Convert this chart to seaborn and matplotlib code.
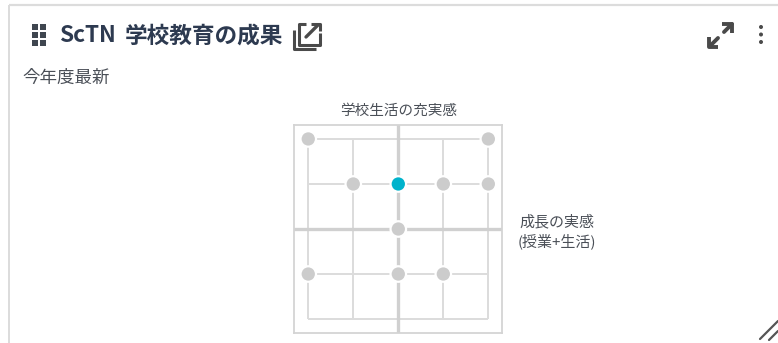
import pandas as pd
import numpy as np
import matplotlib
matplotlib.use("Agg")
import matplotlib.pyplot as plt
from matplotlib.patches import Rectangle, Circle
import seaborn as sns

# values
school_life = [-2, 2, -1, 0, 1, 2, 0, -2, 0, 1]
growth = [2, 2, 1, 1, 1, 1, 0, -1, -1, -1]
latest = [False, False, False, True, False, False, False, False, False, False]
grid_levels = [-2, -1, 1, 2]

title_latin = "ScTN"
title_jp = "学校教育の成果"
subtitle = "今年度最新"
x_label = "学校生活の充実感"
y_label = "成長の実感\n(授業+生活)"

sns.set_theme(style="white")
plt.rcParams["font.family"] = ["Noto Sans CJK JP", "DejaVu Sans"]

data = pd.DataFrame({"school_life": school_life, "growth": growth, "latest": latest})

W, H = 778, 343
fig = plt.figure(figsize=(W / 100, H / 100), dpi=100)

# page layer in pixels: card border, header, icons
bg = fig.add_axes([0, 0, 1, 1])
bg.set_xlim(0, W)
bg.set_ylim(H, 0)
bg.axis("off")

border = "#dcdcdc"
bg.plot([9.5, 778], [5, 5], color=border, lw=1.6, solid_capstyle="butt")
bg.plot([9.5, 9.5], [5, 343], color=border, lw=1.4, solid_capstyle="butt")

# drag handle
for dx in (32, 40):
    for dy in (24, 32, 40):
        bg.add_patch(Rectangle((dx, dy), 5.6, 5.6, color="#3f4650", lw=0))

bg.text(59, 36, title_latin, fontsize=16.3, fontweight="bold", color="#2d3a50", va="center", ha="left")
bg.text(125, 36, title_jp, fontsize=16.3, fontweight="bold", color="#2d3a50", va="center", ha="left")
bg.text(22, 78, subtitle, fontsize=12.6, color="#4a4f57", va="center", ha="left")

# open in new window icon
icon = "#4a4a4a"
bg.plot([294.5, 294.5, 316], [30, 48.5, 48.5], color=icon, lw=2.2, solid_capstyle="butt")
bg.plot([306, 299, 299, 320, 320], [24, 24, 44.5, 44.5, 33], color=icon, lw=2.2, solid_capstyle="butt")
bg.plot([306, 318], [37, 25], color=icon, lw=2.4)
bg.plot([311, 320, 320], [23.5, 23.5, 31], color=icon, lw=2.2, solid_capstyle="butt")

# expand icon
bg.plot([710, 718], [46, 38], color=icon, lw=2.8)
bg.plot([709, 709, 718], [37, 46.5, 46.5], color=icon, lw=2.8, solid_capstyle="butt")
bg.plot([724, 732], [32, 24], color=icon, lw=2.8)
bg.plot([722, 732.5, 732.5], [23.5, 23.5, 33], color=icon, lw=2.8, solid_capstyle="butt")

# kebab menu
for dy in (27, 34.5, 42):
    bg.add_patch(Circle((761, dy), 2, color=icon, lw=0))

# resize handle
bg.plot([760, 778], [339, 321], color="#555555", lw=1.6)
bg.plot([769, 778], [340, 331], color="#555555", lw=1.6)

# matrix axes, box 294..502 x 125..333 px
ax = fig.add_axes([294.3 / W, 1 - 333.0 / H, 208 / W, 208 / H])
lim = 2.31
ax.set_xlim(-lim, lim)
ax.set_ylim(-lim, lim)
ax.set_xticks([])
ax.set_yticks([])
for s in ax.spines.values():
    s.set_color("#d4d4d4")
    s.set_linewidth(1.3)

grid_color = "#dcdcdc"
ax.hlines(grid_levels, -2, 2, color=grid_color, lw=1.4, zorder=1)
ax.vlines(grid_levels, -2, 2, color=grid_color, lw=1.4, zorder=1)
ax.axhline(0, color="#d0d0d0", lw=2.4, zorder=1)
ax.axvline(0, color="#d0d0d0", lw=2.4, zorder=1)

sns.scatterplot(
    data=data,
    x="school_life",
    y="growth",
    hue="latest",
    palette={False: "#cccccc", True: "#00b3cc"},
    s=125,
    edgecolor="white",
    linewidth=1.6,
    legend=False,
    clip_on=False,
    zorder=3,
    ax=ax,
)
ax.set_xlabel("")
ax.set_ylabel("")
ax.set_title(x_label, fontsize=10.5, color="#4a4f57", pad=7.5)
ax.text(1.263, 0.485, y_label, transform=ax.transAxes, fontsize=10.8, color="#4a4f57",
        ha="center", va="center", multialignment="center", linespacing=1.35)

fig.savefig("out.png", dpi=100)
